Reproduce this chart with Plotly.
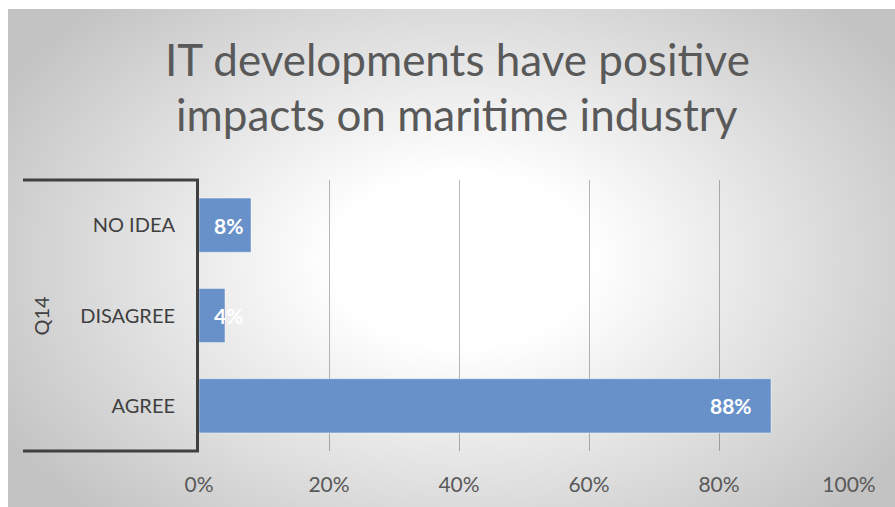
import base64
import struct
import zlib

import numpy as np
import plotly.graph_objects as go

# Survey responses (share of respondents)
categories = ["AGREE", "DISAGREE", "NO IDEA"]
shares = [0.88, 0.04, 0.08]
x_ticks = [0, 0.2, 0.4, 0.6, 0.8, 1.0]
x_tick_labels = ["0%", "20%", "40%", "60%", "80%", "100%"]
group_label = "Q14"
title_lines = ["IT developments have positive", "impacts on maritime industry"]

FONT = "Lato"
W, H = 895, 507
M_L, M_R, M_T, M_B = 199, 46, 180, 56
PLOT_W = W - M_L - M_R
PLOT_H = H - M_T - M_B


def px_to_paper_x(px):
    return (px - M_L) / PLOT_W


def px_to_paper_y(py):
    return (H - M_B - py) / PLOT_H


def gray_png_uri(img):
    """Encode a 2-D uint8 array as a grayscale PNG data URI."""
    h, w = img.shape
    raw = b"".join(b"\x00" + img[i].tobytes() for i in range(h))

    def chunk(tag, data):
        c = struct.pack(">I", len(data)) + tag + data
        return c + struct.pack(">I", zlib.crc32(tag + data) & 0xFFFFFFFF)

    png = (b"\x89PNG\r\n\x1a\n"
           + chunk(b"IHDR", struct.pack(">IIBBBBB", w, h, 8, 0, 0, 0, 0))
           + chunk(b"IDAT", zlib.compress(raw, 9))
           + chunk(b"IEND", b""))
    return "data:image/png;base64," + base64.b64encode(png).decode()


# Radial white-to-gray backdrop for the chart area
BG_X0, BG_Y0 = 8, 9
bg_w, bg_h = W - BG_X0, H - BG_Y0
gw, gh = bg_w // 2, bg_h // 2
yy, xx = np.mgrid[0:gh, 0:gw]
cx, cy = 452 / 2, 250 / 2
r = np.sqrt(((xx - cx) / (gw / 2)) ** 2 + ((yy - cy) / (gh * 0.6)) ** 2)
shade = 255 - 60 * np.clip((r - 0.3) / 0.9, 0, 1)
backdrop = gray_png_uri(shade.astype(np.uint8))

fig = go.Figure()
fig.add_trace(go.Bar(
    y=categories,
    x=shares,
    orientation="h",
    width=0.6,
    marker=dict(color="#6791C8", line=dict(color="rgba(255,255,255,0.45)", width=1)),
    hoverinfo="skip",
))

# Value labels inside the bar ends (pushed right of the base when a bar is short)
annotations = []
for cat, val in zip(categories, shares):
    short = val * PLOT_W < 60
    annotations.append(dict(
        x=0 if short else val, y=cat, xref="x", yref="y",
        text=f"{val:.0%}", showarrow=False,
        xanchor="left" if short else "right",
        xshift=13 if short else -17,
        font=dict(family=FONT, size=21, color="white", weight="bold"),
    ))

annotations.append(dict(
    x=px_to_paper_x(40), y=0.5, xref="paper", yref="paper",
    text=group_label, textangle=-90, showarrow=False,
    xanchor="center", yanchor="middle",
    font=dict(family=FONT, size=20, color="#404040"),
))
for line, cy_px in zip(title_lines, (59, 114)):
    annotations.append(dict(
        x=px_to_paper_x(457), y=px_to_paper_y(cy_px), xref="paper", yref="paper",
        text=line, showarrow=False, xanchor="center", yanchor="middle",
        font=dict(family=FONT, size=44, color="#595959"),
    ))

# Category bracket of the grouped axis
bracket_x0 = px_to_paper_x(23)
shapes = [
    dict(type="line", xref="paper", yref="paper", x0=bracket_x0, x1=0, y0=1, y1=1,
         line=dict(color="#404040", width=3)),
    dict(type="line", xref="paper", yref="paper", x0=bracket_x0, x1=0, y0=0, y1=0,
         line=dict(color="#404040", width=3)),
]

fig.update_layout(
    width=W, height=H,
    margin=dict(l=M_L, r=M_R, t=M_T, b=M_B, pad=0),
    paper_bgcolor="white",
    plot_bgcolor="rgba(0,0,0,0)",
    showlegend=False,
    bargap=0.4,
    annotations=annotations,
    shapes=shapes,
    images=[dict(
        source=backdrop, xref="paper", yref="paper",
        x=px_to_paper_x(BG_X0), y=px_to_paper_y(BG_Y0),
        sizex=bg_w / PLOT_W, sizey=bg_h / PLOT_H,
        xanchor="left", yanchor="top", sizing="stretch", layer="below",
    )],
    xaxis=dict(
        range=[0, 1.0], tickvals=x_ticks, ticktext=x_tick_labels,
        showgrid=True, gridcolor="rgba(0,0,0,0.28)", gridwidth=1,
        zeroline=False, showline=False, ticks="",
        ticklabelstandoff=19,
        tickfont=dict(family=FONT, size=21, color="#595959"),
        fixedrange=True,
    ),
    yaxis=dict(
        categoryorder="array", categoryarray=categories,
        showgrid=False, zeroline=False,
        showline=True, linecolor="#404040", linewidth=3,
        ticks="", ticklabelstandoff=17,
        tickfont=dict(family=FONT, size=20, color="#404040"),
        fixedrange=True,
    ),
)

fig.write_html("out.html")
